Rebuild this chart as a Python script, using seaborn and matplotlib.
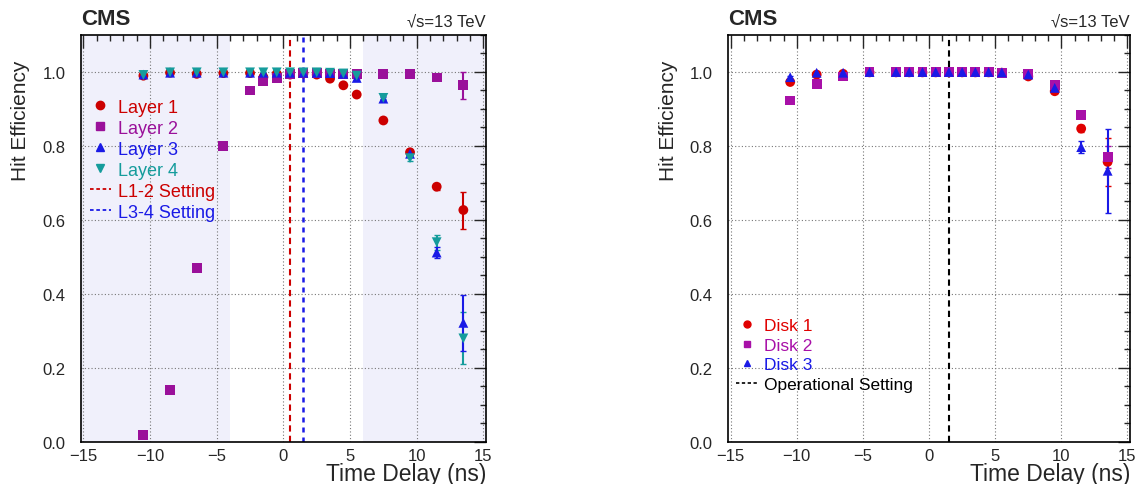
import matplotlib
matplotlib.use("Agg")
import matplotlib.pyplot as plt
from matplotlib.lines import Line2D
from matplotlib.ticker import MultipleLocator
import numpy as np
import pandas as pd
import seaborn as sns

# time delay bins (ns), same for barrel layers and forward disks
delays = [-10.5, -8.5, -6.5, -4.5, -2.5, -1.5, -0.5, 0.5, 1.5, 2.5, 3.5, 4.5, 5.5, 7.5, 9.5, 11.5, 13.5]

layer1 = [0.990, 0.998, 0.995, 0.997, 0.997, 0.986, 0.995, 0.993, 0.996, 0.993, 0.982, 0.964, 0.939, 0.869, 0.783, 0.690, 0.627]
layer2 = [0.018, 0.141, 0.470, 0.800, 0.950, 0.975, 0.984, 0.995, 0.997, 0.997, 0.996, 0.995, 0.994, 0.994, 0.995, 0.985, 0.964]
layer3 = [0.993, 0.998, 0.998, 0.998, 0.998, 0.998, 0.998, 0.998, 0.998, 0.998, 0.997, 0.995, 0.984, 0.928, 0.779, 0.512, 0.322]
layer4 = [0.992, 0.999, 0.999, 0.999, 0.999, 0.999, 0.999, 0.999, 0.999, 0.999, 0.998, 0.996, 0.990, 0.930, 0.767, 0.540, 0.280]
layer1_err = [0, 0, 0, 0, 0, 0, 0, 0, 0, 0, 0, 0, 0, 0.004, 0.006, 0.008, 0.050]
layer2_err = [0, 0, 0, 0, 0, 0, 0, 0, 0, 0, 0, 0, 0, 0, 0, 0.005, 0.037]
layer3_err = [0, 0, 0, 0, 0, 0, 0, 0, 0, 0, 0, 0, 0, 0.004, 0.008, 0.015, 0.075]
layer4_err = [0, 0, 0, 0, 0, 0, 0, 0, 0, 0, 0, 0, 0, 0.004, 0.008, 0.020, 0.070]

disk1 = [0.973, 0.993, 0.995, 0.999, 0.999, 0.999, 0.999, 0.999, 0.999, 0.999, 0.999, 0.999, 0.998, 0.988, 0.948, 0.847, 0.757]
disk2 = [0.923, 0.968, 0.988, 0.999, 0.999, 0.999, 0.999, 0.999, 0.999, 0.999, 0.999, 0.999, 0.998, 0.995, 0.964, 0.884, 0.770]
disk3 = [0.986, 0.998, 0.998, 1.000, 1.000, 1.000, 1.000, 1.000, 1.000, 1.000, 1.000, 1.000, 0.999, 0.993, 0.957, 0.797, 0.733]
disk1_err = [0.004, 0, 0, 0, 0, 0, 0, 0, 0, 0, 0, 0, 0, 0.003, 0.006, 0.010, 0.065]
disk2_err = [0, 0, 0, 0, 0, 0, 0, 0, 0, 0, 0, 0, 0, 0, 0, 0.006, 0.030]
disk3_err = [0.004, 0, 0, 0, 0, 0, 0, 0, 0, 0, 0, 0, 0, 0.003, 0.006, 0.017, 0.113]

layer_names = ["Layer 1", "Layer 2", "Layer 3", "Layer 4"]
disk_names = ["Disk 1", "Disk 2", "Disk 3"]
l12_setting = 0.5
l34_setting = 1.5
disk_setting = 1.5

colors = {
    "Layer 1": "#cc0000", "Layer 2": "#9a109a", "Layer 3": "#1a1ae6", "Layer 4": "#159c9c",
    "Disk 1": "#e00000", "Disk 2": "#a810a8", "Disk 3": "#1a1ae6",
}
markers = {
    "Layer 1": "o", "Layer 2": "s", "Layer 3": "^", "Layer 4": "v",
    "Disk 1": "o", "Disk 2": "s", "Disk 3": "^",
}


def long_table(names, values, errors):
    rows = []
    for name, vals, errs in zip(names, values, errors):
        for d, v, e in zip(delays, vals, errs):
            rows.append({"delay": d, "eff": v, "err": e, "series": name})
    return pd.DataFrame(rows)


def style_axes(ax):
    ax.set_xlim(-15.2, 15.2)
    ax.set_ylim(0, 1.1)
    ax.xaxis.set_major_locator(MultipleLocator(5))
    ax.xaxis.set_minor_locator(MultipleLocator(1))
    ax.yaxis.set_major_locator(MultipleLocator(0.2))
    ax.yaxis.set_minor_locator(MultipleLocator(0.05))
    ax.yaxis.set_major_formatter(matplotlib.ticker.FormatStrFormatter("%.1f"))
    ax.tick_params(which="both", direction="in", top=True, right=True, labelsize=12, width=1.0)
    ax.tick_params(which="major", length=9)
    ax.tick_params(which="minor", length=4.5)
    ax.tick_params(axis="y", pad=11)
    ax.tick_params(axis="x", pad=4)
    ax.set_axisbelow(True)
    ax.grid(True, which="major", linestyle=(0, (1, 2)), color="#777777", linewidth=0.8)
    for sp in ax.spines.values():
        sp.set_linewidth(1.2)
        sp.set_color("black")
    ax.set_xlabel("Time Delay (ns)", fontsize=16.5, loc="right")
    ax.xaxis.set_label_coords(1.0, -0.05)
    ax.set_ylabel("Hit Efficiency", fontsize=15, loc="top")
    ax.yaxis.set_label_coords(-0.125, 0.94)
    ax.text(0.0, 1.015, "CMS", transform=ax.transAxes, fontsize=16, fontweight="bold", ha="left", va="bottom")
    ax.text(1.0, 1.015, "\u221as=13 TeV", transform=ax.transAxes, fontsize=12, ha="right", va="bottom")


def draw_points(ax, df, order):
    for name in order:
        sub = df[df["series"] == name]
        ax.errorbar(sub["delay"], sub["eff"], yerr=sub["err"], fmt="none",
                    ecolor=colors[name], elinewidth=1.5, capsize=2.5, zorder=3)
    sns.scatterplot(data=df, x="delay", y="eff", hue="series", style="series",
                    hue_order=order, style_order=order,
                    palette={n: colors[n] for n in order}, markers={n: markers[n] for n in order},
                    s=50, edgecolor="none", linewidth=0, legend=False, ax=ax, zorder=4)


sns.set_theme(style="white")
plt.rcParams["font.family"] = ["Liberation Sans", "DejaVu Sans"]

fig = plt.figure(figsize=(11.39, 4.85), dpi=100)
ax1 = fig.add_axes([0.0709, 0.0866, 0.3558, 0.8392])
ax2 = fig.add_axes([0.6392, 0.0866, 0.3530, 0.8392])

# left: barrel layers
layers_df = long_table(layer_names, [layer1, layer2, layer3, layer4],
                       [layer1_err, layer2_err, layer3_err, layer4_err])
ax1.axvspan(-15.2, -4, color="#f0f0fb", zorder=0.2, linewidth=0)
ax1.axvspan(6, 15.2, color="#f0f0fb", zorder=0.2, linewidth=0)
ax1.axvline(l12_setting, color="#cc0000", linestyle=(0, (3, 2)), linewidth=1.5, zorder=2)
ax1.axvline(l34_setting, color="#1a1ae6", linestyle=(0, (2, 2)), linewidth=1.8, zorder=2)
draw_points(ax1, layers_df, ["Layer 1", "Layer 2", "Layer 4", "Layer 3"])
style_axes(ax1)

handles = [Line2D([], [], color=colors[n], marker=markers[n], linestyle="none", markersize=6)
           for n in layer_names]
handles += [Line2D([], [], color="#cc0000", linestyle=(0, (2, 1.5)), linewidth=1.3),
            Line2D([], [], color="#1a1ae6", linestyle=(0, (2, 1.5)), linewidth=1.3)]
ax1.legend(handles=handles, labels=layer_names + ["L1-2 Setting", "L3-4 Setting"],
           loc="upper left", bbox_to_anchor=(-0.005, 0.87), frameon=False, fontsize=13,
           labelcolor="linecolor", handlelength=1.2, handletextpad=0.4, labelspacing=0.22,
           borderaxespad=0.2)

# right: forward disks
disks_df = long_table(disk_names, [disk1, disk2, disk3], [disk1_err, disk2_err, disk3_err])
ax2.axvline(disk_setting, color="black", linestyle=(0, (3, 2)), linewidth=1.5, zorder=2)
draw_points(ax2, disks_df, disk_names)
style_axes(ax2)

handles = [Line2D([], [], color=colors[n], marker=markers[n], linestyle="none", markersize=5)
           for n in disk_names]
handles += [Line2D([], [], color="black", linestyle=(0, (2, 1.5)), linewidth=1.2)]
ax2.legend(handles=handles, labels=disk_names + ["Operational Setting"],
           loc="upper left", bbox_to_anchor=(-0.005, 0.33), frameon=False, fontsize=12.5,
           labelcolor="linecolor", handlelength=1.2, handletextpad=0.4, labelspacing=0.25,
           borderaxespad=0.2)

fig.savefig("out.png", dpi=100)
